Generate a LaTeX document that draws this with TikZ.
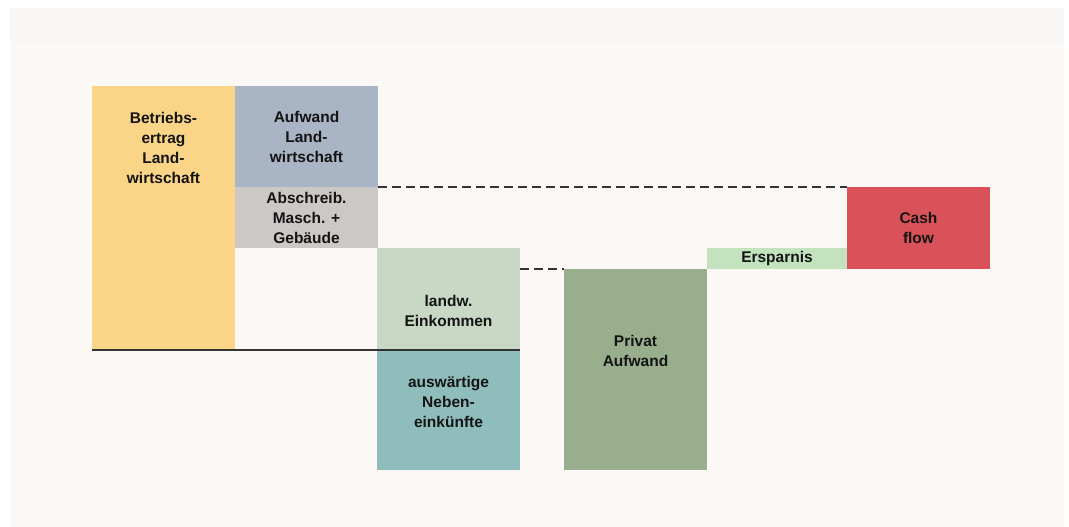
\documentclass[tikz,border=0pt]{standalone}
\usepackage{fontspec}
\setmainfont{Liberation Sans}
\definecolor{bgA}{HTML}{F8F7F5}
\definecolor{bgB}{HTML}{FBF8F5}
\definecolor{cBet}{HTML}{FAD487}
\definecolor{cAuf}{HTML}{A9B4C4}
\definecolor{cAbs}{HTML}{CBC8C6}
\definecolor{cEin}{HTML}{C8D8C5}
\definecolor{cAus}{HTML}{8FBDBC}
\definecolor{cPri}{HTML}{98AE8D}
\definecolor{cErs}{HTML}{C3E3BF}
\definecolor{cCas}{HTML}{D9525A}
\definecolor{lineC}{HTML}{333333}
\definecolor{txtC}{HTML}{141414}
\begin{document}
\begin{tikzpicture}[x=1pt,y=-1pt,
  blk/.style={rectangle, draw=none, inner sep=0pt, outer sep=0pt, anchor=north west},
  lbl/.style={align=center, inner sep=0pt, text=txtC, font=\fontsize{15.5}{20}\selectfont\bfseries},
  dashline/.style={draw=lineC, line width=1.8pt, dash pattern=on 9pt off 5pt},
  solidline/.style={draw=lineC, line width=1.8pt}]
\useasboundingbox (0,0) rectangle (1069,527);
\fill[white] (0,0) rectangle (1069,527);
\fill[bgA] (10,8) rectangle (1064,527);
\fill[bgB] (10,43) rectangle (1064,527);
% blocks
\node[blk, fill=cBet, minimum width=143pt, minimum height=264pt] (bet) at (92,86) {};
\node[blk, fill=cAuf, minimum width=143pt, minimum height=101pt] (auf) at (235,86) {};
\node[blk, fill=cAbs, minimum width=143pt, minimum height=61pt] (abs) at (235,187) {};
\node[blk, fill=cEin, minimum width=143pt, minimum height=102pt] (ein) at (377,248) {};
\node[blk, fill=cAus, minimum width=143pt, minimum height=120pt] (aus) at (377,350) {};
\node[blk, fill=cPri, minimum width=143pt, minimum height=201pt] (pri) at (564,269) {};
\node[blk, fill=cErs, minimum width=140pt, minimum height=21pt] (ers) at (707,248) {};
\node[blk, fill=cCas, minimum width=143pt, minimum height=82pt] (cas) at (847,187) {};
% labels
\node[lbl] (tbet) at (163.5,148) {Betriebs-\\ertrag\\Land-\\wirtschaft};
\node[lbl] (tauf) at (306.5,137) {Aufwand\\Land-\\wirtschaft};
\node[lbl] (tabs) at (306.5,218) {Abschreib.\\Masch. +\\Gebäude};
\node[lbl] (tein) at (448.5,311) {landw.\\Einkommen};
\node[lbl] (taus) at (448.5,402) {auswärtige\\Neben-\\einkünfte};
\node[lbl] (tpri) at (635.5,351) {Privat\\Aufwand};
\node[lbl] (ters) at (777,258) {Ersparnis};
\node[lbl] (tcas) at (918.5,228) {Cash\\flow};
% connectors
\coordinate (einR) at (ein.north east |- pri.north west);
\draw[dashline] (auf.south east) -- (cas.north west);
\draw[dashline] (einR) -- (pri.north west);
\draw[solidline] (bet.south west) -- (ein.south east);
\end{tikzpicture}
\end{document}
